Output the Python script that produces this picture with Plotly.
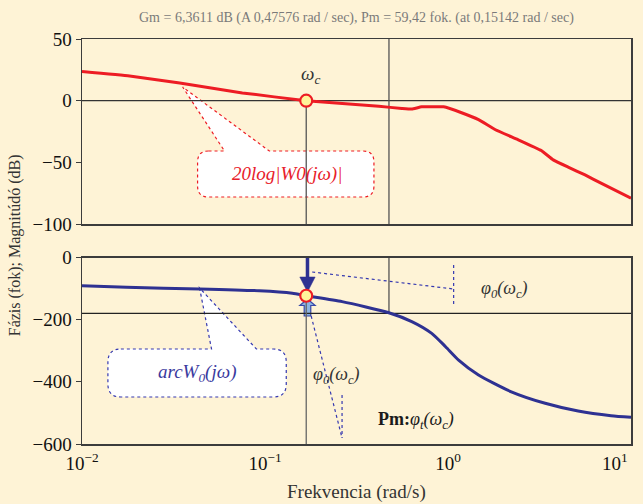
import plotly.graph_objects as go

# ---------------- data ----------------
freq_mag = [0.01, 0.0182, 0.0342, 0.0752, 0.168, 0.419, 0.560, 0.634, 0.718, 0.946,
            1.186, 1.468, 1.816, 2.421, 3.232, 3.758, 4.535, 5.610, 6.855, 10.0]
mag_db = [23.6, 20.0, 14.4, 6.3, 0.0, -4.6, -6.3, -6.8, -5.0, -5.0,
          -9.8, -15.4, -23.6, -31.7, -40.4, -48.0, -53.9, -60.2, -66.9, -79.1]

freq_phase = [0.01, 0.0175, 0.0439, 0.0931, 0.141, 0.168, 0.264, 0.475, 0.634,
              0.815, 0.970, 1.143, 1.468, 2.218, 3.396, 5.140, 7.780, 10.0]
phase_deg = [-90.7, -96, -101, -107, -115, -123, -142, -177.6, -206,
             -244, -287, -330, -378, -432, -469, -494, -509, -514]

WC = 0.168          # crossover frequency (as drawn)
WC_MAG = 0.0
WC_PHASE = -123
WG = 0.47576        # phase crossover frequency
PHASE_REF = -180

x_tickvals = [0.01, 0.1, 1, 10]
x_ticktext = ["10<sup>−2</sup>", "10<sup>−1</sup>", "10<sup>0</sup>", "10<sup>1</sup>"]
mag_ticks = [50, 0, -50, -100]
phase_ticks = [0, -200, -400, -600]

TITLE = "Gm = 6,3611 dB (A 0,47576 rad / sec), Pm = 59,42 fok. (at 0,15142 rad / sec)"

# ---------------- style ----------------
BG = "#FEF3D6"
RED = "#ED1C24"
BLUE = "#2E3192"
DOTBLUE = "#3538B0"
DARK = "#333333"
SERIF = "Liberation Serif, Times New Roman, serif"

W, H = 643, 504
L, R, T, B = 82, 10, 39, 60
PW, PH = W - L - R, H - T - B


def pp(px, py):
    return (px - L) / PW, (H - B - py) / PH


def callout_path(x0, y0, x1, y1, r, bx0, bx1, tx, ty):
    pts = []
    def P(cmd, *xy):
        s = cmd
        for i in range(0, len(xy), 2):
            a, b = pp(xy[i], xy[i + 1])
            s += f" {a:.5f},{b:.5f}"
        pts.append(s)
    P("M", x0 + r, y0)
    P("L", bx0, y0)
    P("L", tx, ty)
    P("L", bx1, y0)
    P("L", x1 - r, y0)
    P("Q", x1, y0, x1, y0 + r)
    P("L", x1, y1 - r)
    P("Q", x1, y1, x1 - r, y1)
    P("L", x0 + r, y1)
    P("Q", x0, y1, x0, y1 - r)
    P("L", x0, y0 + r)
    P("Q", x0, y0, x0 + r, y0)
    return " ".join(pts) + " Z"


def poly_path(points):
    s = []
    for i, (a, b) in enumerate(points):
        u, v = pp(a, b)
        s.append(("M" if i == 0 else "L") + f" {u:.5f},{v:.5f}")
    return " ".join(s) + " Z"


fig = go.Figure()

# curves
fig.add_trace(go.Scatter(x=freq_mag, y=mag_db, mode="lines", line=dict(color=RED, width=3, shape="spline", smoothing=0.3),
                         xaxis="x", yaxis="y", showlegend=False, hoverinfo="skip"))
fig.add_trace(go.Scatter(x=freq_phase, y=phase_deg, mode="lines", line=dict(color=BLUE, width=3, shape="spline", smoothing=0.6),
                         xaxis="x2", yaxis="y2", showlegend=False, hoverinfo="skip"))
# crossover markers
fig.add_trace(go.Scatter(x=[WC], y=[WC_MAG], mode="markers",
                         marker=dict(size=12, color="#FFF39A", line=dict(color=RED, width=2.2)),
                         xaxis="x", yaxis="y", showlegend=False, hoverinfo="skip"))
fig.add_trace(go.Scatter(x=[WC], y=[WC_PHASE], mode="markers",
                         marker=dict(size=12, color="#FFF39A", line=dict(color=RED, width=2.2)),
                         xaxis="x2", yaxis="y2", showlegend=False, hoverinfo="skip"))

shapes = []
# reference lines (below)
shapes.append(dict(type="line", xref="x", yref="y", x0=0.01, x1=10, y0=0, y1=0,
                   line=dict(color=DARK, width=1.3), layer="below"))
shapes.append(dict(type="line", xref="x", yref="y", x0=WC, x1=WC, y0=WC_MAG, y1=-100,
                   line=dict(color="#555555", width=1.3), layer="below"))
shapes.append(dict(type="line", xref="x", yref="y", x0=WG, x1=WG, y0=50, y1=-100,
                   line=dict(color="#555555", width=1.3), layer="below"))
shapes.append(dict(type="line", xref="x2", yref="y2", x0=0.01, x1=10, y0=PHASE_REF, y1=PHASE_REF,
                   line=dict(color="#222222", width=1.3), layer="below"))
shapes.append(dict(type="line", xref="x2", yref="y2", x0=WC, x1=WC, y0=WC_PHASE, y1=-600,
                   line=dict(color="#666666", width=1.3), layer="below"))
shapes.append(dict(type="line", xref="x2", yref="y2", x0=WG, x1=WG, y0=0, y1=PHASE_REF,
                   line=dict(color="#555555", width=1.3), layer="below"))

# callouts
shapes.append(dict(type="path", xref="paper", yref="paper", layer="below",
                   path=callout_path(198, 151, 375, 197, 11, 225, 270, 183, 87),
                   fillcolor="white", line=dict(color=RED, width=1.2, dash="dot")))
shapes.append(dict(type="path", xref="paper", yref="paper", layer="below",
                   path=callout_path(108, 349, 287, 397, 13, 212, 257, 200, 288),
                   fillcolor="white", line=dict(color=DOTBLUE, width=1.2, dash="dot")))

# dotted leader lines
for (a, b, c, d) in [(313, 272, 455, 289), (455, 265, 455, 307), (312, 316, 343, 438), (343, 395, 343, 438)]:
    u0, v0 = pp(a, b)
    u1, v1 = pp(c, d)
    shapes.append(dict(type="line", xref="paper", yref="paper", x0=u0, y0=v0, x1=u1, y1=v1,
                       line=dict(color=DOTBLUE, width=1.2, dash="dot"), layer="below"))

# down arrow (solid)
shapes.append(dict(type="path", xref="paper", yref="paper", layer="below",
                   path=poly_path([(306.8, 257), (309.8, 257), (309.8, 277), (316, 277), (308.3, 292),
                                   (300.6, 277), (306.8, 277)]),
                   fillcolor=BLUE, line=dict(color=BLUE, width=0.5)))
# up arrow (hollow, light blue)
shapes.append(dict(type="path", xref="paper", yref="paper", layer="below",
                   path=poly_path([(305, 316), (311.6, 316), (311.6, 305.5), (316, 305.5), (308.3, 299),
                                   (300.6, 305.5), (305, 305.5)]),
                   fillcolor="#8DB4E2", line=dict(color="#3848A8", width=1.2)))

annotations = []


def ann(px, py, text, size, color, xanchor="center", font=SERIF):
    u, v = pp(px, py)
    annotations.append(dict(xref="paper", yref="paper", x=u, y=v, text=text, showarrow=False,
                            xanchor=xanchor, yanchor="middle",
                            font=dict(family=font, size=size, color=color)))


ann(357, 18, TITLE, 14, "#7A7A7A")
ann(311, 75, "<i>ω<sub>c</sub></i>", 19, DARK)
ann(288, 174, "<i>20log|W0(jω)|</i>", 19, "#E8202A")
ann(197, 373, "<i>arcW<sub>0</sub>(jω)</i>", 19, "#3A3A9E")
ann(506, 289, "<i>φ<sub>0</sub>(ω<sub>c</sub>)</i>", 18, DARK)
ann(337, 375, "<i>φ<sub>0</sub>(ω<sub>c</sub>)</i>", 18, DARK)
ann(377, 420, "<b>Pm:</b><i>φ<sub>t</sub>(ω<sub>c</sub>)</i>", 18, "#1a1a1a", xanchor="left")
ann(357, 492, "Frekvencia (rad/s)", 19, DARK)
# last x tick label, pulled inside the page edge as in the reference
ann(632, 462, x_ticktext[-1], 19, "#111111", xanchor="right")
u, v = pp(15, 245)
annotations.append(dict(xref="paper", yref="paper", x=u, y=v, text="Fázis (fok); Magnitúdó (dB)",
                        showarrow=False, textangle=-90, xanchor="center", yanchor="middle",
                        font=dict(family=SERIF, size=16, color=DARK)))

axis_common = dict(showline=True, mirror=True, linecolor="#3c3c3c", linewidth=1.5,
                   showgrid=False, zeroline=False)

top_dom = [1 - (224 - T) / PH, 1]
bot_dom = [0, (H - B - 257.5) / PH]

fig.update_layout(
    width=W, height=H,
    margin=dict(l=L, r=R, t=T, b=B),
    paper_bgcolor=BG, plot_bgcolor=BG,
    shapes=shapes, annotations=annotations,
    xaxis=dict(type="log", range=[-2, 1], domain=[0, 1], anchor="y", showticklabels=False,
               ticks="", **axis_common),
    xaxis2=dict(type="log", range=[-2, 1], domain=[0, 1], anchor="y2", tickvals=x_tickvals[:-1],
                ticktext=x_ticktext[:-1], ticks="", ticklabelstandoff=2,
                tickfont=dict(family=SERIF, size=19, color="#111111"), **axis_common),
    yaxis=dict(domain=top_dom, range=[-100, 50], anchor="x", tickvals=mag_ticks,
               ticks="outside", ticklen=5, tickcolor="#3c3c3c",
               tickfont=dict(family=SERIF, size=19, color="#111111"), **axis_common),
    yaxis2=dict(domain=bot_dom, range=[-600, 0], anchor="x2", tickvals=phase_ticks,
                ticks="outside", ticklen=5, tickcolor="#3c3c3c",
                tickfont=dict(family=SERIF, size=19, color="#111111"), **axis_common),
    hovermode=False,
)

fig.write_html("out.html",
               config={"displayModeBar": False, "staticPlot": True},
               post_script="document.body.style.margin='0';document.body.style.padding='0';"
                           "document.body.style.overflow='hidden';"
                           "document.body.style.background='" + BG + "';"
                           "document.documentElement.style.background='" + BG + "';")
